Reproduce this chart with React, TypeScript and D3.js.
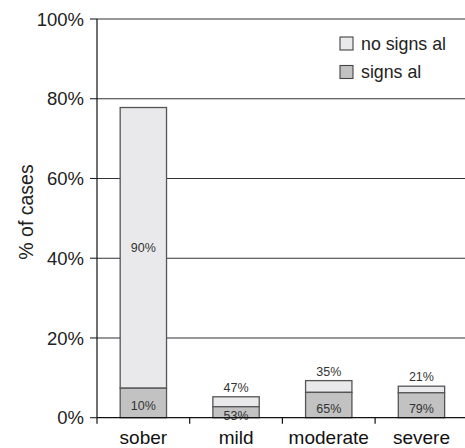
import React from "react";
import * as d3 from "d3";

const categories = ["sober", "mild", "moderate", "severe"];
const signsAl = [7.4, 2.75, 6.35, 6.25];
const noSignsAl = [70.4, 2.5, 2.95, 1.65];
const signsLabels = ["10%", "53%", "65%", "79%"];
const noSignsLabels = ["90%", "47%", "35%", "21%"];
const yTicks = [0, 20, 40, 60, 80, 100];
const legendItems = ["no signs al", "signs al"];

const W = 465;
const H = 448;
const left = 97;
const right = 467.8;
const top = 19;
const bottom = 417.7;
const FONT = "Liberation Sans, Arial, Helvetica, sans-serif";
const LIGHT = "#e9e9eb";
const DARK = "#c2c2c2";
const STROKE = "#555";

export default function App() {
  const x = d3.scaleBand<string>().domain(categories).range([left, right]).paddingInner(0.5).paddingOuter(0.25);
  const y = d3.scaleLinear().domain([0, 100]).range([bottom, top]);
  const step = x.step();

  return (
    <svg width={W} height={H} style={{ position: "absolute", left: 0, top: 0 }} fontFamily={FONT}>
      <rect width={W} height={H} fill="#fff" />
      {yTicks.map((t) => (
        <g key={t}>
          {t > 0 && <line x1={left} x2={W} y1={y(t)} y2={y(t)} stroke="#333" strokeWidth={1.1} />}
          <line x1={left - 7} x2={left} y1={y(t)} y2={y(t)} stroke="#222" strokeWidth={1.1} />
          <text x={left - 13} y={y(t)} dy="0.36em" textAnchor="end" fontSize={18.5} fill="#222">
            {t}%
          </text>
        </g>
      ))}
      {categories.map((c, i) => {
        const x0 = x(c)!;
        const bw = x.bandwidth();
        const s = signsAl[i];
        const n = noSignsAl[i];
        return (
          <g key={c}>
            <rect x={x0} y={y(s + n)} width={bw} height={y(s) - y(s + n)} fill={LIGHT} stroke={STROKE} strokeWidth={1.3} />
            <rect x={x0} y={y(s)} width={bw} height={y(0) - y(s)} fill={DARK} stroke={STROKE} strokeWidth={1.3} />
            <text x={x0 + bw / 2} y={(y(0) + y(s)) / 2 + 3} dy="0.36em" textAnchor="middle" fontSize={12.5} fill="#333">
              {signsLabels[i]}
            </text>
            {i === 0 ? (
              <text x={x0 + bw / 2} y={(y(s) + y(s + n)) / 2} dy="0.36em" textAnchor="middle" fontSize={12.5} fill="#333">
                {noSignsLabels[i]}
              </text>
            ) : (
              <text x={x0 + bw / 2} y={y(s + n) - 5} textAnchor="middle" fontSize={12.5} fill="#333">
                {noSignsLabels[i]}
              </text>
            )}
          </g>
        );
      })}
      <line x1={left} x2={left} y1={top} y2={bottom + 6} stroke="#111" strokeWidth={1.2} />
      <line x1={left} x2={W} y1={bottom} y2={bottom} stroke="#111" strokeWidth={1.2} />
      {categories.slice(1).map((c) => (
        <line key={c} x1={x(c)! - step * 0.25} x2={x(c)! - step * 0.25} y1={bottom} y2={bottom + 6} stroke="#111" strokeWidth={1.2} />
      ))}
      {categories.map((c) => (
        <text key={c} x={x(c)! + x.bandwidth() / 2} y={443.5} textAnchor="middle" fontSize={19} fill="#111">
          {c}
        </text>
      ))}
      <text transform={`translate(33,212) rotate(-90)`} textAnchor="middle" fontSize={19.5} fill="#222">
        % of cases
      </text>
      {legendItems.map((l, i) => (
        <g key={l} transform={`translate(340,${37 + i * 28.5})`}>
          <rect x={0} y={0} width={13} height={13} fill={i === 0 ? LIGHT : DARK} stroke="#444" strokeWidth={1.1} />
          <text x={21} y={6.5} dy="0.36em" fontSize={17.8} fill="#222">
            {l}
          </text>
        </g>
      ))}
    </svg>
  );
}
